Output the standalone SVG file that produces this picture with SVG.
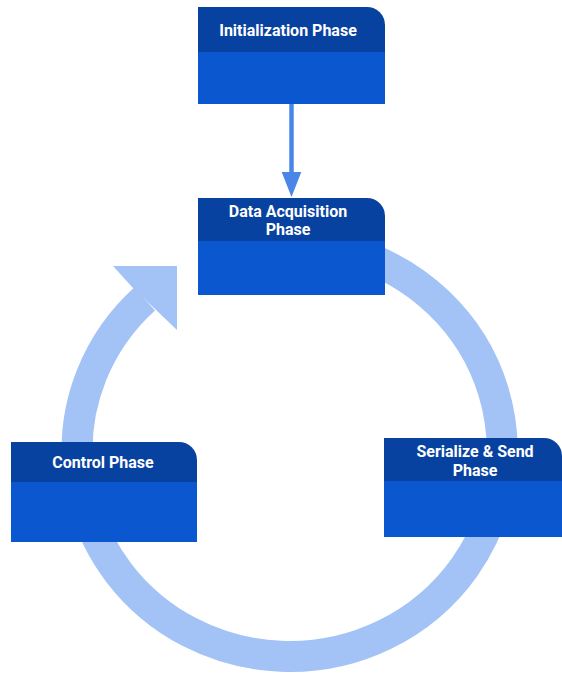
<svg xmlns="http://www.w3.org/2000/svg" width="562" height="673" viewBox="0 0 562 673">
  <defs>
    <style>
      .head { fill: #0842a0; }
      .body { fill: #0b57d0; }
      .label { fill: #ffffff; font-family: Roboto, "Liberation Sans", sans-serif; font-size: 16px; font-weight: bold; text-anchor: middle; }
      .cycle { fill: none; stroke: #a3c3f7; stroke-width: 31; }
      .cycle-head { fill: #a3c3f7; }
      .flow { stroke: #4a86e8; stroke-width: 4.5; fill: none; }
      .flow-head { fill: #4a86e8; }
    </style>
  </defs>

  <rect width="562" height="673" fill="#ffffff"/>

  <!-- connectors -->
  <g id="connectors">
    <!-- loop: data acquisition -> serialize -> control -> back to acquisition -->
    <path class="cycle" d="M 252.6 246.6 A 212.5 206.5 0 1 1 144.6 299.0"/>
    <polygon class="cycle-head" points="177,266 113,266 132,287 155,309 177,330"/>
    <!-- initialization -> data acquisition -->
    <line class="flow" x1="291.5" y1="104" x2="291.5" y2="175"/>
    <polygon class="flow-head" points="281.7,172 301.3,172 291.5,197"/>
  </g>

  <g id="init-phase">
    <rect class="body" x="198" y="50" width="187" height="54"/>
    <path class="head" d="M198 7 H367 A18 18 0 0 1 385 25 V52 H198 Z"/>
    <text class="label" x="288" y="36">Initialization Phase</text>
  </g>

  <g id="acquisition-phase">
    <rect class="body" x="198" y="239" width="187" height="56"/>
    <path class="head" d="M198 198 H367 A18 18 0 0 1 385 216 V241 H198 Z"/>
    <text class="label" x="288" y="217">Data Acquisition</text>
    <text class="label" x="288" y="235">Phase</text>
  </g>

  <g id="control-phase">
    <rect class="body" x="11" y="480" width="186" height="62"/>
    <path class="head" d="M11 442 H179 A18 18 0 0 1 197 460 V482 H11 Z"/>
    <text class="label" x="103" y="468">Control Phase</text>
  </g>

  <g id="serialize-phase">
    <rect class="body" x="384" y="479" width="178" height="58"/>
    <path class="head" d="M384 438 H544 A18 18 0 0 1 562 456 V481 H384 Z"/>
    <text class="label" x="475" y="457">Serialize &amp; Send</text>
    <text class="label" x="475" y="476">Phase</text>
  </g>
</svg>
